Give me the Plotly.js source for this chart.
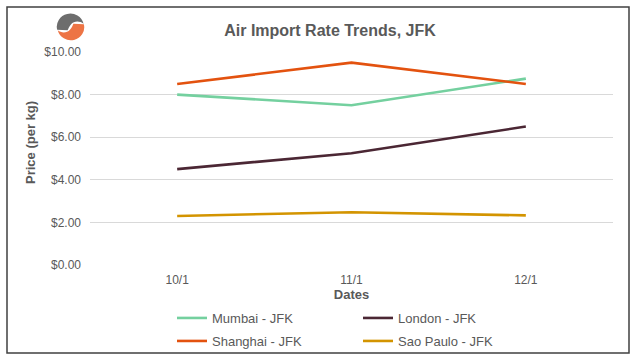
<!DOCTYPE html>
<html>
<head>
<meta charset="utf-8">
<script src="https://cdn.plot.ly/plotly-3.0.1.min.js"></script>
<style>html,body{margin:0;padding:0;background:#fff;}#chart{width:637px;height:364px;}</style>
</head>
<body>
<div id="chart"></div>
<script>
// ---- data ----
var dates = ['10/1', '11/1', '12/1'];
var mumbai = [8.00, 7.50, 8.75];
var london = [4.50, 5.25, 6.50];
var shanghai = [8.50, 9.50, 8.50];
var saoPaulo = [2.30, 2.48, 2.33];
var seriesNames = ['Mumbai - JFK', 'London - JFK', 'Shanghai - JFK', 'Sao Paulo - JFK'];
var seriesColors = ['#74D09F', '#4B2734', '#E3520F', '#D39400'];
var yTickVals = [0, 2, 4, 6, 8, 10];
var yTickText = ['$0.00', '$2.00', '$4.00', '$6.00', '$8.00', '$10.00'];

// ---- layout geometry ----
var W = 637, H = 364;
var M = {l: 90, r: 24, t: 52, b: 99, autoexpand: false};
var pw = W - M.l - M.r, ph = H - M.t - M.b;
function px(x) { return (x - M.l) / pw; }
function py(y) { return (H - M.b - y) / ph; }

var font = '"Liberation Sans", Arial, sans-serif';
var grey = '#595959';

var allSeries = [mumbai, london, shanghai, saoPaulo];
var legendOf = ['legend', 'legend', 'legend2', 'legend2'];
var traces = allSeries.map(function (vals, i) {
  return {
    type: 'scatter', mode: 'lines', x: dates, y: vals, name: seriesNames[i],
    legend: legendOf[i],
    line: {color: seriesColors[i], width: 2.6}, hoverinfo: 'skip'
  };
});

var logoSvg = '<svg xmlns="http://www.w3.org/2000/svg" viewBox="0 0 100 100">' +
  '<path d="M4,60 A46,46 0 0 1 95,38 C82,28 62,28 52,40 C45,48 43,55 40,62 Z" fill="#6d6d6d"/>' +
  '<path d="M96,40 A46,46 0 0 1 6,62 C18,72 38,72 48,60 C55,52 57,46 60,38 Z" fill="#ED7445"/>' +
  '</svg>';
var logoSrc = 'data:image/svg+xml;base64,' + btoa(logoSvg);

function legendCfg(topY) {
  return {
    orientation: 'h', x: px(172), xanchor: 'left', y: py(topY), yanchor: 'top',
    entrywidth: 141, entrywidthmode: 'pixels', itemwidth: 30,
    font: {size: 13, color: grey, family: font}, bgcolor: 'rgba(0,0,0,0)'
  };
}

var layout = {
  width: W, height: H,
  margin: M,
  paper_bgcolor: '#fff', plot_bgcolor: '#fff',
  font: {family: font, color: grey, size: 12},
  showlegend: true,
  title: {text: '<b>Air Import Rate Trends, JFK</b>', font: {family: font, size: 16, color: grey},
          x: px(330), xref: 'paper', xanchor: 'center', y: 1 - 30 / H, yref: 'container', yanchor: 'middle'},
  xaxis: {
    type: 'category', range: [-0.5, 2.5], showgrid: false, zeroline: false,
    showline: false, ticks: '', tickfont: {size: 12, color: grey, family: font}, ticklabelstandoff: 6,
    title: {text: '<b>Dates</b>', font: {size: 13, color: grey, family: font}, standoff: 2}
  },
  yaxis: {
    range: [0, 10], tickvals: yTickVals, ticktext: yTickText, showgrid: true,
    gridcolor: '#D9D9D9', gridwidth: 1, zeroline: false, showline: false, ticks: '',
    tickfont: {size: 12, color: grey, family: font}, ticklabelstandoff: 8
  },
  annotations: [{
    text: '<b>Price (per kg)</b>', textangle: -90, xref: 'paper', yref: 'paper',
    x: px(30), y: py(143), xanchor: 'center', yanchor: 'middle', showarrow: false,
    font: {size: 13, color: grey, family: font}
  }],
  legend: legendCfg(303),
  legend2: legendCfg(326),
  shapes: [{
    type: 'rect', xref: 'paper', yref: 'paper', x0: px(7), x1: px(629), y0: py(7), y1: py(353),
    line: {color: '#404040', width: 1.5}, layer: 'above'
  }],
  images: [{
    source: logoSrc, xref: 'paper', yref: 'paper', x: px(56), y: py(13),
    sizex: 29 / pw, sizey: 28 / ph, xanchor: 'left', yanchor: 'top', sizing: 'stretch', layer: 'above'
  }]
};

Plotly.newPlot('chart', traces, layout, {staticPlot: true, displayModeBar: false});
</script>
</body>
</html>
